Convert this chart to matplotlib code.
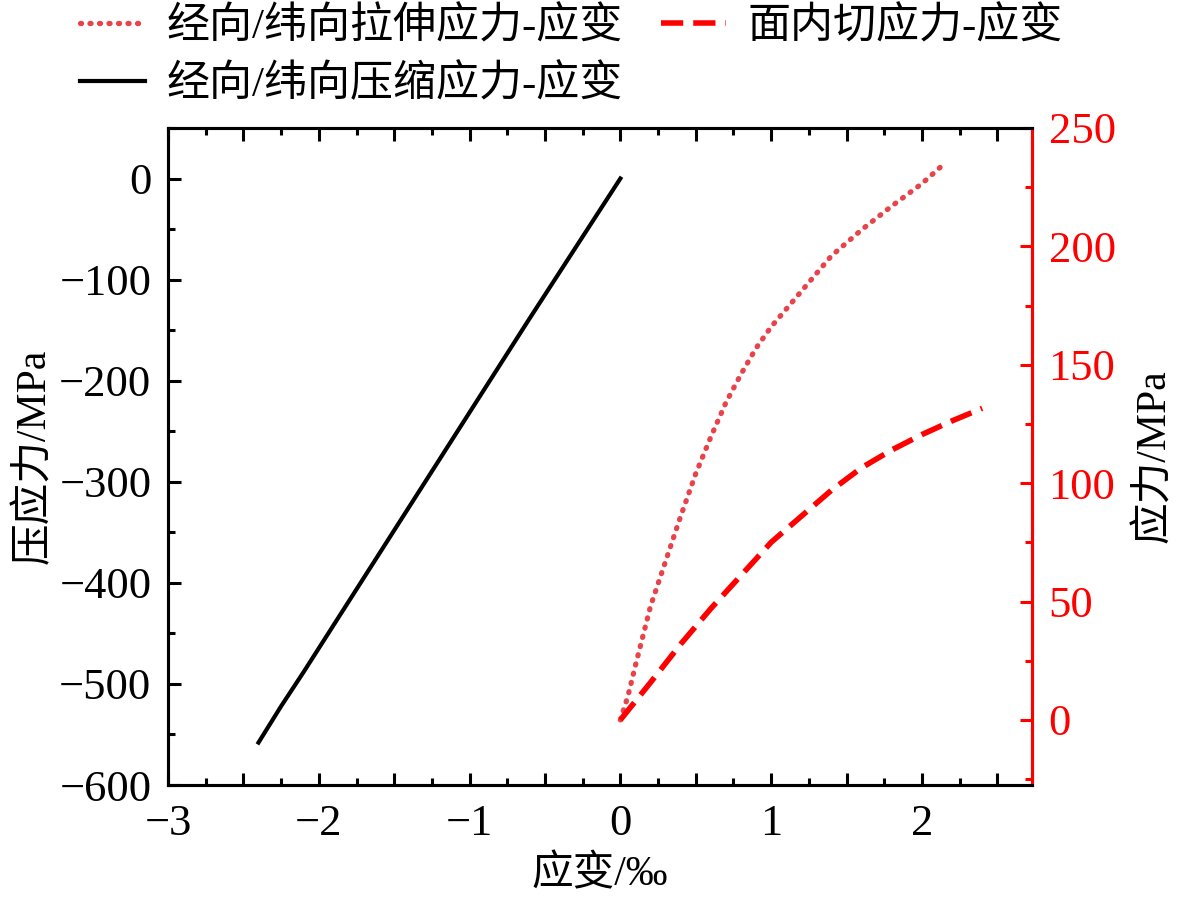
import numpy as np
import matplotlib
matplotlib.use("Agg")
import matplotlib.pyplot as plt
from matplotlib.ticker import MultipleLocator, FuncFormatter

plt.rcParams['font.family'] = ['Liberation Serif', 'Noto Sans CJK SC']
plt.rcParams['axes.unicode_minus'] = True

# compression (left axis)
strain_c = [0, -0.3, -0.6, -0.9, -1.2, -1.5, -1.8, -2.1, -2.25, -2.4]
stress_c = [0, -69, -138, -208, -278, -348, -418, -488, -522, -558]

# tension (right axis)
strain_t = [0, 0.05, 0.1, 0.2, 0.3, 0.4, 0.5, 0.6, 0.7, 0.8, 0.9, 1.0,
            1.2, 1.4, 1.6, 1.8, 2.0, 2.15]
stress_t = [0, 10, 23, 48, 67, 86, 104, 119.5, 134, 146, 157, 166,
            181, 196, 207, 217, 226.5, 235]

# in-plane shear (right axis)
strain_s = [0, 0.2, 0.4, 0.6, 0.8, 1.0, 1.2, 1.4, 1.6, 1.8, 2.0, 2.2, 2.4]
stress_s = [0, 15.8, 32, 47, 61, 75, 86, 97, 106.5, 114, 120.5, 126.3, 131.6]

lbl_t = "经向/纬向拉伸应力-应变"
lbl_c = "经向/纬向压缩应力-应变"
lbl_s = "面内切应力-应变"

fig = plt.figure(figsize=(11.81, 9.07), dpi=100)
ax = fig.add_axes([0.1423, 0.1345, 0.7315, 0.7244])
ax2 = ax.twinx()

l_c, = ax.plot(strain_c, stress_c, color='black', lw=3.0)
l_t, = ax2.plot(strain_t, stress_t, color='#e8434a', lw=3.8, linestyle=(0, (0.2, 1.6)),
                dash_capstyle='round')
l_s, = ax2.plot(strain_s, stress_s, color='#ff0000', lw=4.0, linestyle=(0, (4, 1.8)))

ax.set_xlim(-3, 2.73)
ax.set_ylim(-600, 50)
ax2.set_ylim(-27.5, 250)

ax.xaxis.set_major_locator(MultipleLocator(0.5))
ax.xaxis.set_minor_locator(MultipleLocator(0.25))
ax.xaxis.set_major_formatter(FuncFormatter(lambda v, p: ("%d" % round(v)).replace('-', '\u2212') if abs(v - round(v)) < 1e-6 else ""))
ax.yaxis.set_major_locator(MultipleLocator(100))
ax.yaxis.set_minor_locator(MultipleLocator(50))
ax2.yaxis.set_major_locator(MultipleLocator(50))
ax2.yaxis.set_minor_locator(MultipleLocator(25))

ax.tick_params(which='both', direction='in', top=True, right=False, width=2.2, labelsize=32, colors='black')
ax.tick_params(axis='x', which='major', length=9, pad=14)
ax.tick_params(axis='y', which='major', length=9, pad=12)
ax.tick_params(which='minor', length=5)
ax2.tick_params(which='both', direction='in', width=2.2, labelsize=32, colors='#ff0000')
ax2.tick_params(which='major', length=9, pad=12)
ax2.tick_params(which='minor', length=5)

for s in ax.spines.values():
    s.set_linewidth(2.2)
for s in ax2.spines.values():
    s.set_linewidth(2.2)
ax2.spines['right'].set_color('#ff0000')

ax.set_xlabel("应变/‰", fontsize=30, labelpad=8)
ax.set_ylabel("压应力/MPa", fontsize=30, labelpad=4)
ax2.set_ylabel("应力/MPa", fontsize=30, labelpad=14)

fig.legend([l_t, l_c, l_s], [lbl_t, lbl_c, lbl_s], ncol=2, frameon=False,
           loc='upper left', bbox_to_anchor=(0.035, 1.035), fontsize=31,
           handlelength=1.5, handletextpad=0.5, columnspacing=0.9, labelspacing=0.4)

fig.savefig("out.png", dpi=100)
